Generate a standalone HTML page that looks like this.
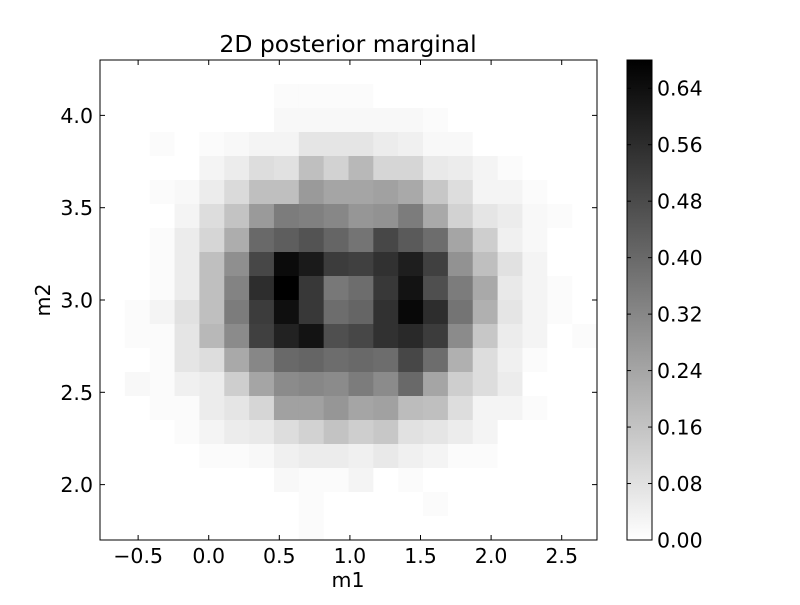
<!DOCTYPE html>
<html><head><meta charset="utf-8"><style>
body{margin:0;background:#fff;}
svg text{font-family:"DejaVu Sans","Liberation Sans",sans-serif;fill:#000;}
</style></head><body>
<svg id="chart" width="800" height="600" xmlns="http://www.w3.org/2000/svg">
<rect width="800" height="600" fill="#fff"/>
<g id="cells"></g>
<g id="axes"></g>
<g id="cbar"></g>
<text x="348" y="52" font-size="23.5" text-anchor="middle">2D posterior marginal</text>
<text x="348" y="587" font-size="20.5" text-anchor="middle">m1</text>
<text x="50" y="300" font-size="20.5" text-anchor="middle" transform="rotate(-90 50 300)">m2</text>
</svg>
<script>
const xTicks = [-0.5, 0.0, 0.5, 1.0, 1.5, 2.0, 2.5];
const xTickLabels = ["\u22120.5","0.0","0.5","1.0","1.5","2.0","2.5"];
const yTicks = [2.0, 2.5, 3.0, 3.5, 4.0];
const yTickLabels = ["2.0","2.5","3.0","3.5","4.0"];
const cbTicks = [0, 0.08, 0.16, 0.24, 0.32, 0.40, 0.48, 0.56, 0.64];
const cbTickLabels = ["0.00","0.08","0.16","0.24","0.32","0.40","0.48","0.56","0.64"];
const vmax = 0.68;
const m1Range = [-0.77, 2.75];
const m2Range = [1.70, 4.30];
// rows from top (highest m2) to bottom
const density = [
[0,0,0,0,0,0,0,0,0,0,0,0,0,0,0,0,0,0,0,0],
[0,0,0,0,0,0,0,0.01,0.01,0.01,0.01,0,0,0,0,0,0,0,0,0],
[0,0,0,0,0,0,0,0.02,0.02,0.02,0.02,0.02,0.02,0.01,0,0,0,0,0,0],
[0,0,0.01,0,0.01,0.02,0.03,0.03,0.07,0.07,0.07,0.05,0.04,0.02,0.02,0,0,0,0,0],
[0,0,0,0,0.03,0.05,0.09,0.08,0.17,0.12,0.19,0.11,0.11,0.06,0.05,0.03,0.01,0,0,0],
[0,0,0.01,0.02,0.05,0.10,0.17,0.17,0.27,0.24,0.24,0.25,0.23,0.15,0.09,0.03,0.03,0.01,0,0],
[0,0,0,0.03,0.09,0.16,0.27,0.35,0.34,0.32,0.28,0.29,0.35,0.23,0.12,0.07,0.05,0.02,0.01,0],
[0,0,0.01,0.05,0.11,0.22,0.40,0.43,0.46,0.41,0.37,0.49,0.44,0.39,0.24,0.13,0.04,0.02,0,0],
[0,0,0.01,0.05,0.17,0.30,0.49,0.65,0.61,0.52,0.51,0.55,0.60,0.51,0.29,0.17,0.08,0.03,0,0],
[0,0,0.01,0.05,0.17,0.33,0.56,0.68,0.53,0.36,0.39,0.53,0.63,0.47,0.35,0.23,0.06,0.03,0.01,0],
[0,0.01,0.03,0.08,0.17,0.35,0.52,0.64,0.53,0.39,0.41,0.55,0.66,0.56,0.37,0.21,0.07,0.03,0.01,0],
[0,0.01,0.01,0.07,0.19,0.31,0.51,0.59,0.63,0.47,0.49,0.55,0.57,0.52,0.31,0.15,0.05,0.03,0,0.01],
[0,0,0.01,0.07,0.09,0.23,0.32,0.40,0.41,0.39,0.40,0.39,0.49,0.39,0.21,0.09,0.04,0.01,0,0],
[0,0.02,0.01,0.04,0.05,0.13,0.24,0.31,0.32,0.31,0.35,0.31,0.40,0.24,0.13,0.09,0.05,0,0,0],
[0,0,0.01,0.01,0.05,0.07,0.11,0.25,0.25,0.28,0.24,0.25,0.18,0.17,0.09,0.03,0.03,0.01,0,0],
[0,0,0,0.01,0.03,0.05,0.06,0.09,0.12,0.16,0.13,0.15,0.08,0.07,0.05,0.03,0,0,0,0],
[0,0,0,0,0.01,0.01,0.02,0.04,0.05,0.05,0.04,0.06,0.04,0.03,0.01,0.01,0,0,0,0],
[0,0,0,0,0,0,0,0.02,0.01,0.01,0.03,0,0.01,0,0,0,0,0,0,0],
[0,0,0,0,0,0,0,0,0.01,0,0,0,0,0.01,0,0,0,0,0,0],
[0,0,0,0,0,0,0,0,0.01,0,0,0,0,0,0,0,0,0,0,0]
];
const NS="http://www.w3.org/2000/svg";
const P={l:100,r:597,t:60,b:540};
const xs=v=>P.l+(v-m1Range[0])/(m1Range[1]-m1Range[0])*(P.r-P.l);
const ys=v=>P.b-(v-m2Range[0])/(m2Range[1]-m2Range[0])*(P.b-P.t);
const gray=v=>{const g=Math.round(255*(1-Math.max(0,Math.min(1,v/vmax))));return `rgb(${g},${g},${g})`;};
function mk(tag,attrs,parent){const e=document.createElementNS(NS,tag);for(const k in attrs)e.setAttribute(k,attrs[k]);parent.appendChild(e);return e;}
const cells=document.getElementById('cells');
const nr=density.length,nc=density[0].length;
const dx=(m1Range[1]-m1Range[0])/nc, dy=(m2Range[1]-m2Range[0])/nr;
density.forEach((row,i)=>{row.forEach((v,j)=>{
  const x0=m1Range[0]+j*dx, y1=m2Range[1]-i*dy;
  const r=mk('rect',{x:xs(x0),y:ys(y1),width:xs(x0+dx)-xs(x0)+0.5,height:ys(y1-dy)-ys(y1)+0.5,fill:gray(v)},cells);
  
  
});});
const ax=document.getElementById('axes');
const frame=mk('rect',{x:P.l,y:P.t,width:P.r-P.l,height:P.b-P.t,fill:'none',stroke:'#000','stroke-width':1},ax);


xTicks.forEach((t,k)=>{const x=xs(t);
  mk('line',{x1:x,x2:x,y1:P.b,y2:P.b-5,stroke:'#000'},ax);
  mk('line',{x1:x,x2:x,y1:P.t,y2:P.t+5,stroke:'#000'},ax);
  const tx=mk('text',{x:x,y:P.b+23,'font-size':20.5,'text-anchor':'middle'},ax);tx.textContent=xTickLabels[k];
  
  
});
yTicks.forEach((t,k)=>{const y=ys(t);
  mk('line',{x1:P.l,x2:P.l+5,y1:y,y2:y,stroke:'#000'},ax);
  mk('line',{x1:P.r,x2:P.r-5,y1:y,y2:y,stroke:'#000'},ax);
  const tx=mk('text',{x:P.l-7,y:y+7.5,'font-size':20.5,'text-anchor':'end'},ax);tx.textContent=yTickLabels[k];
  
  
});
const cb=document.getElementById('cbar');
const C={l:627,r:652,t:60,b:540};
const defs=mk('defs',{},cb);
const lg=mk('linearGradient',{id:'cbg',x1:0,y1:1,x2:0,y2:0},defs);
mk('stop',{offset:0,'stop-color':'#fff'},lg);mk('stop',{offset:1,'stop-color':'#000'},lg);
const cbr=mk('rect',{x:C.l,y:C.t,width:C.r-C.l,height:C.b-C.t,fill:'url(#cbg)',stroke:'#000'},cb);


const cy=v=>C.b-v/vmax*(C.b-C.t);
cbTicks.forEach((t,k)=>{const y=cy(t);
  mk('line',{x1:C.r,x2:C.r-4,y1:y,y2:y,stroke:'#000'},cb);
  mk('line',{x1:C.l,x2:C.l+4,y1:y,y2:y,stroke:'#000'},cb);
  const tx=mk('text',{x:C.r+5,y:y+7.5,'font-size':20.5},cb);tx.textContent=cbTickLabels[k];
  
  
});
</script>
</body></html>
